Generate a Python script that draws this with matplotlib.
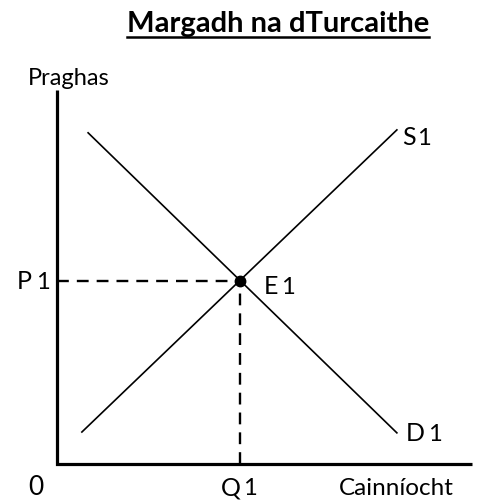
import matplotlib
matplotlib.use("Agg")
import matplotlib.pyplot as plt

plt.rcParams['font.family'] = ['Lato', 'DejaVu Sans']

# curves (quantity, price) in diagram units
supply_q = [0.60, 8.19]
supply_p = [0.77, 8.05]
demand_q = [0.75, 8.19]
demand_p = [7.98, 0.75]
eq_q = 4.41
eq_p = 4.41
axis_top = 9.0
axis_right = 10.0

title = "Margadh na dTurcaithe"
y_label = "Praghas"
x_label = "Cainníocht"

fig = plt.figure(figsize=(4.81, 5.01), dpi=100)
ax = fig.add_axes([0, 0, 1, 1])
ax.set_xlim(-1.373, 10.217)
ax.set_ylim(-0.892, 11.18)
ax.axis("off")

# axes
ax.plot([0, 0, axis_right], [axis_top, 0, 0], color="black", lw=2.3,
        solid_joinstyle="miter", solid_capstyle="butt")

# supply and demand
ax.plot(supply_q, supply_p, color="black", lw=1.2)
ax.plot(demand_q, demand_p, color="black", lw=1.2)

# dashed guides
ax.plot([0, eq_q], [eq_p, eq_p], color="black", lw=1.7, dashes=(5.0, 3.4))
ax.plot([eq_q, eq_q], [0, eq_p], color="black", lw=1.7, dashes=(5.0, 3.4))
ax.plot([eq_q], [eq_p], "o", color="black", ms=7.5)


def lab(x, x1, y, letter):
    ax.text(x, y, letter, fontsize=18, ha="left", va="baseline")
    ax.text(x1, y, "1", fontsize=17, ha="left", va="baseline")


lab(-0.96, -0.50, 4.22, "P")
lab(4.99, 5.40, 4.10, "E")
lab(8.32, 8.68, 7.69, "S")
lab(8.41, 8.93, 0.55, "D")
lab(3.96, 4.48, -0.75, "Q")

ax.text(-0.52, -0.75, "0", fontsize=19, ha="center", va="baseline")
ax.text(8.17, -0.75, x_label, fontsize=17.5, ha="center", va="baseline")
ax.text(0.29, 9.13, y_label, fontsize=17, ha="center", va="baseline")

t = ax.text(5.33, 10.41, title, fontsize=21, fontweight="bold",
            ha="center", va="baseline")
fig.canvas.draw()
bb = t.get_window_extent().transformed(ax.transData.inverted())
ax.plot([bb.x0, bb.x1], [10.29, 10.29], color="black", lw=1.8)

fig.savefig("out.png", dpi=100)
